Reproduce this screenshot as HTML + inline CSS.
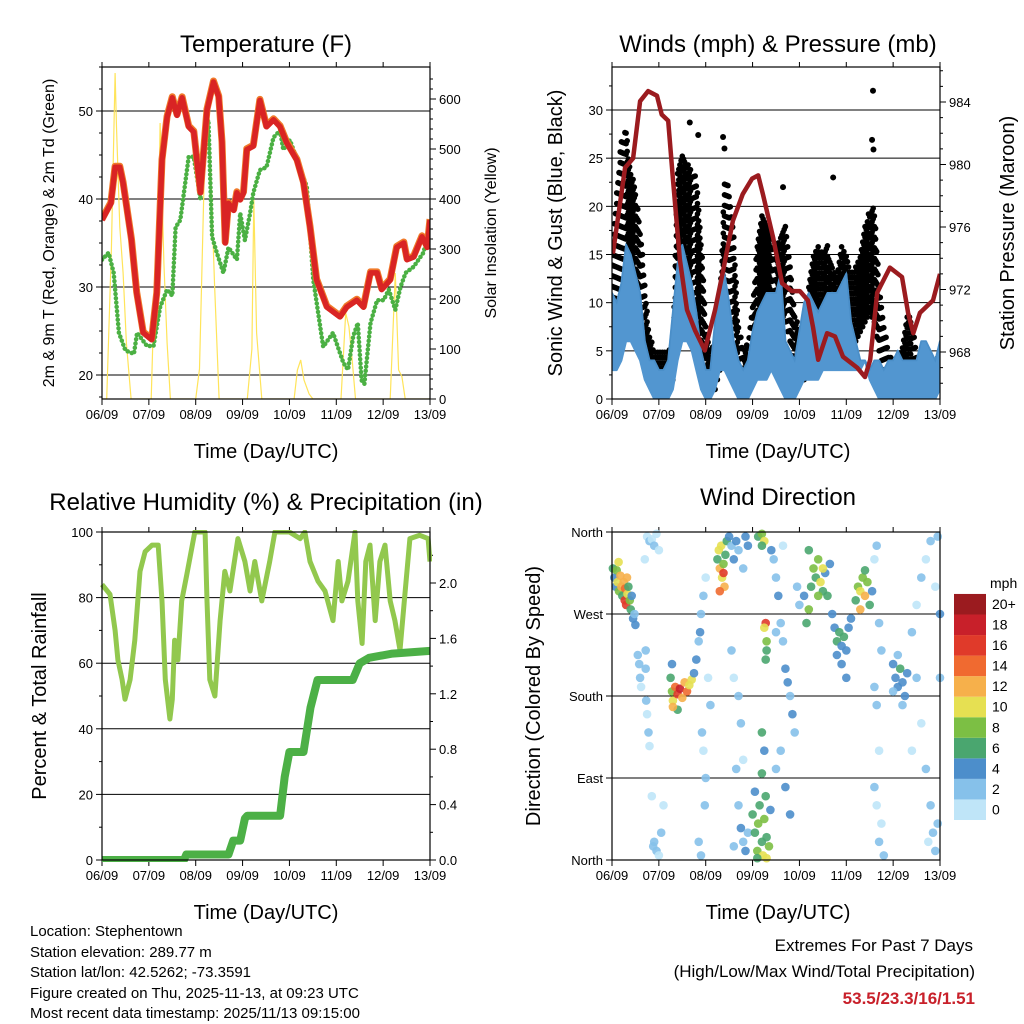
<!DOCTYPE html>
<html><head><meta charset="utf-8"><title>Station Meteogram</title>
<style>
html,body{margin:0;padding:0;background:#fff;}
svg{display:block;font-family:"Liberation Sans",Arial,sans-serif;}
</style></head>
<body>
<svg id="chart" xmlns="http://www.w3.org/2000/svg" width="1024" height="1024" viewBox="0 0 1024 1024">
<rect width="1024" height="1024" fill="#fff"/>
<text x="266" y="52" font-size="24" text-anchor="middle">Temperature (F)</text>
<text x="778" y="52" font-size="24" text-anchor="middle">Winds (mph) &amp; Pressure (mb)</text>
<text x="266" y="510" font-size="24" text-anchor="middle">Relative Humidity (%) &amp; Precipitation (in)</text>
<text x="778" y="505" font-size="24" text-anchor="middle">Wind Direction</text>
<text transform="translate(54,233) rotate(-90)" font-size="16" text-anchor="middle">2m &amp; 9m T (Red, Orange) &amp; 2m Td (Green)</text>
<text transform="translate(496,233) rotate(-90)" font-size="16" text-anchor="middle">Solar Insolation (Yellow)</text>
<text transform="translate(562,233) rotate(-90)" font-size="20" text-anchor="middle">Sonic Wind &amp; Gust (Blue, Black)</text>
<text transform="translate(1014,233) rotate(-90)" font-size="20" text-anchor="middle">Station Pressure (Maroon)</text>
<text transform="translate(46,696) rotate(-90)" font-size="20" text-anchor="middle">Percent &amp; Total Rainfall</text>
<text transform="translate(540,696) rotate(-90)" font-size="20" text-anchor="middle">Direction (Colored By Speed)</text>
<text x="266" y="458" font-size="20" text-anchor="middle">Time (Day/UTC)</text>
<text x="778" y="458" font-size="20" text-anchor="middle">Time (Day/UTC)</text>
<text x="266" y="919" font-size="20" text-anchor="middle">Time (Day/UTC)</text>
<text x="778" y="919" font-size="20" text-anchor="middle">Time (Day/UTC)</text>
<g font-size="15">
<text x="30" y="936">Location: Stephentown</text>
<text x="30" y="957">Station elevation: 289.77 m</text>
<text x="30" y="977">Station lat/lon: 42.5262; -73.3591</text>
<text x="30" y="998">Figure created on Thu, 2025-11-13, at 09:23 UTC</text>
<text x="30" y="1018">Most recent data timestamp: 2025/11/13 09:15:00</text>
</g>
<g text-anchor="end">
<text x="973" y="951" font-size="17">Extremes For Past 7 Days</text>
<text x="975" y="977" font-size="17">(High/Low/Max Wind/Total Precipitation)</text>
<text x="975" y="1004" font-size="17" font-weight="bold" fill="#c8202a">53.5/23.3/16/1.51</text>
</g>
<g id="layer"></g>
</svg>
<script>
// ---- Data ----
const dayLabels = ["06/09","07/09","08/09","09/09","10/09","11/09","12/09","13/09"];
const tempT = [0,0.19,0.28,0.38,0.45,0.63,0.74,0.88,1.06,1.17,1.28,1.39,1.5,1.6,1.71,1.85,1.96,2.1,2.24,2.38,2.49,2.56,2.63,2.7,2.81,2.88,2.95,3.02,3.09,3.23,3.37,3.51,3.66,3.8,3.94,4.16,4.3,4.44,4.58,4.8,5.08,5.22,5.44,5.58,5.73,5.87,5.97,6.15,6.29,6.44,6.51,6.65,6.83,6.94,7.0];
const tempV = [37.6,39.5,43.6,43.6,41.8,35.3,29.3,24.8,24,29.3,44.4,49.3,51.5,49.5,51.5,48.2,47.6,40.7,50.1,53.3,51.6,46.4,35,39.5,38.7,40.7,39.9,40.7,45.6,46,51.2,48.2,49,48.2,46.4,44.4,41.8,36.8,30.8,27.7,26.6,27.7,28.5,27.7,31.6,31.6,29.7,30.8,34.5,35,33.1,33.4,35.7,34.5,37.6];
const dewT = [0,0.14,0.25,0.36,0.5,0.68,0.75,0.96,1.1,1.24,1.39,1.5,1.57,1.67,1.85,1.96,2.06,2.1,2.2,2.27,2.35,2.45,2.59,2.7,2.88,2.95,3.05,3.16,3.23,3.37,3.51,3.66,3.8,3.87,4.01,4.22,4.37,4.51,4.72,4.93,5.15,5.25,5.36,5.46,5.54,5.6,5.73,5.87,6.01,6.12,6.26,6.37,6.48,6.65,6.86,7.0];
const dewV = [33.1,33.9,31.6,24.8,22.8,22.4,24.8,23.3,23.3,27.7,29.7,29,36.8,37.6,44.8,44.8,41.4,39.9,48.2,49,35.7,33.9,31.6,34.5,33.1,38.4,35.3,38.4,40.7,43.3,43.6,47,47.8,45.6,46.7,43.6,41.4,30.8,23.2,24.8,21.4,20.6,24.4,25.9,19.4,19,25.9,28.5,28.5,29.7,27.4,30,31.6,32.3,33.9,36.8];
const solarT = [0,0.1,0.2,0.28,0.31,0.38,0.45,0.52,0.62,1.05,1.12,1.19,1.24,1.32,1.39,1.46,2.0,2.08,2.19,2.26,2.33,2.4,2.5,3.1,3.2,3.24,3.3,3.41,4.1,4.17,4.24,4.31,4.42,4.5,5.1,5.2,5.27,5.34,5.41,6.15,6.26,6.33,6.4,6.47,7.0];
const solarV = [0,0,300,652,544,344,252,112,0,0,232,238,552,272,112,0,0,60,478,604,430,232,0,0,100,398,132,0,0,58,78,38,10,0,0,172,145,78,0,0,252,58,45,0,0];
const presT = [0.02,0.28,0.45,0.6,0.77,0.96,1.06,1.2,1.3,1.45,1.6,1.77,1.98,2.2,2.37,2.58,2.79,2.99,3.12,3.22,3.44,3.63,3.84,4.01,4.18,4.29,4.4,4.59,4.76,4.93,5.23,5.4,5.51,5.66,5.93,6.19,6.32,6.43,6.57,6.85,7.0];
const presV = [974.3,979.8,980.4,984.05,984.7,984.4,983.2,982.8,979.1,973.9,970.7,969.4,968.1,970.7,973.2,976.4,978.1,979.1,979.3,978.1,975.3,972.4,971.9,971.9,971.3,969.6,967.5,969.2,969,967.7,967,966.4,967.5,971.8,973.4,972.8,970.5,969.2,970.5,971.3,973];
const windLo = [3,3,4,6,6,5,4,2,1,0,0,0,0,1,4,6,6,5,3,1,0,0,1,3,3,2,1,0,0,0,1,2,2,2,3,2,1,0,0,0,1,2,2,2,2,3,3,3,3,3,3,3,3,3,4,2,1,0,0,0,0,0,0,0,0,0,0,0,0,0,1];
const windHi = [11,10,12,16,15,13,11,6,4,4,3,3,4,9,14,16,14,12,9,5,3,3,8,12,13,10,6,4,3,4,7,9,10,11,11,11,13,6,5,4,7,10,11,10,9,10,11,11,11,12,13,8,6,4,4,3,4,4,3,4,4,5,4,4,4,4,6,6,5,4,6];
const gustLo = [4,6,8,10,9,8,5,3,2,1,1,1,1,2,8,12,13,12,10,5,2,1,1,3,8,10,8,3,1,2,4,7,8,9,10,8,9,8,6,3,2,2,5,6,7,7,6,7,6,7,6,6,6,7,8,9,8,5,3,1,1,1,2,3,3,1,1,1,1,1,1];
const gustHi = [15,22,27,28,24,22,18,12,7,5,5,5,5,6,24,26,25,24,23,17,8,5,6,9,23,22,17,8,5,6,10,16,20,18,17,16,17,18,14,9,7,8,12,15,16,15,16,14,13,16,15,13,14,15,18,20,20,12,8,5,4,4,6,9,8,5,4,4,4,4,5,9];
const gustOutT = [1.66,1.84,2.37,2.4,3.65,4.72,5.57,5.55,5.58];
const gustOutV = [28.7,27.4,27.2,26,22,23,32,26.9,25.9];
const rhT = [0,0.17,0.28,0.34,0.43,0.49,0.6,0.7,0.81,0.92,1.07,1.2,1.28,1.35,1.45,1.5,1.55,1.62,1.7,1.81,1.98,2.2,2.24,2.3,2.41,2.52,2.62,2.73,2.9,3.05,3.16,3.26,3.41,3.58,3.69,4.0,4.23,4.33,4.44,4.61,4.76,4.93,5.04,5.12,5.25,5.4,5.46,5.55,5.63,5.72,5.83,5.93,6.04,6.15,6.25,6.36,6.47,6.57,6.78,6.96,7.0];
const rhV = [84,81,70,61,55,49,55,67,88,94,96,96,79,55,43,49,67,61,79,87,100,100,79,55,50,73,88,82,98,91,82,91,79,91,100,100,98,100,91,85,82,73,91,79,85,100,79,66,91,96,73,91,96,79,73,64,82,98,99,98,91];
const prT = [0,1.75,1.8,2.7,2.8,2.95,3.05,3.1,3.8,3.9,4.0,4.3,4.45,4.6,5.35,5.5,5.7,6.2,7.0];
const prV = [0,0,0.04,0.04,0.14,0.14,0.3,0.32,0.32,0.6,0.78,0.78,1.1,1.3,1.3,1.42,1.46,1.49,1.51];
const dirT = [0.02,0.05,0.08,0.1,0.12,0.15,0.18,0.2,0.22,0.25,0.27,0.28,0.3,0.32,0.33,0.35,0.38,0.4,0.42,0.45,0.48,0.5,0.14,
0.75,0.8,0.85,0.9,0.95,1.0,0.7,0.6,0.58,0.62,0.55,0.75,0.78,0.8,0.85,0.9,0.95,1.0,1.05,0.88,1.1,0.72,0.72,0.73,
1.25,1.28,1.3,1.35,1.4,1.45,1.5,1.55,1.6,1.65,1.7,1.28,1.4,1.3,1.75,1.8,
1.85,1.88,1.9,1.95,2.0,1.92,1.95,2.0,1.98,1.85,1.9,2.05,2.1,
2.25,2.28,2.3,2.33,2.35,2.38,2.4,2.42,2.45,2.3,2.38,
2.5,2.55,2.6,2.65,2.7,2.8,2.85,2.9,2.55,2.6,2.7,2.75,2.8,2.65,2.7,2.75,2.8,2.85,2.9,2.6,
3.0,3.05,3.1,3.12,3.15,3.2,3.22,3.25,3.28,3.3,3.35,3.38,3.05,3.2,3.25,3.2,3.1,3.3,
3.12,3.2,3.25,3.2,3.28,3.25,3.3,3.28,3.3,
3.45,3.5,3.55,3.6,3.65,3.7,3.75,3.8,3.85,3.9,3.6,3.5,3.7,3.8,3.4,3.5,3.95,4.0,3.65,
4.1,4.15,4.2,4.25,4.3,4.35,4.4,4.45,4.5,4.55,4.6,4.65,4.7,4.2,4.4,4.5,
4.75,4.8,4.85,4.9,4.95,5.0,5.05,5.1,4.9,5.0,4.8,
5.2,5.25,5.3,5.35,5.4,5.45,5.5,5.55,5.3,5.4,
5.6,5.65,5.7,5.75,5.6,5.65,5.7,5.6,5.65,5.7,5.8,5.75,
6.0,6.05,6.1,6.15,6.2,6.25,6.1,6.0,6.2,6.3,
6.4,6.5,6.6,6.7,6.8,6.9,7.0,6.5,6.6,6.7,6.8,6.85,6.9,6.95,6.75,7.0,6.4,6.95];
const dirDeg = [320,310,300,318,305,295,312,300,290,305,285,298,280,310,292,300,285,275,290,265,270,258,327,
355,350,352,345,358,340,330,200,215,190,225,160,140,125,70,20,10,5,30,15,60,230,210,175,
200,185,175,190,182,188,178,195,185,192,198,215,165,168,205,220,
240,250,270,290,310,140,120,90,60,20,5,200,170,
330,340,320,345,310,325,300,335,350,295,315,
355,345,330,350,340,320,355,345,230,200,180,150,110,100,60,35,20,10,30,15,
50,30,10,40,60,20,5,45,70,25,15,55,75,95,120,140,2,2,
355,358,350,345,260,255,230,220,240,
330,310,290,260,240,210,195,180,160,140,120,100,80,50,340,250,300,280,345,
290,260,275,300,320,310,330,305,295,315,290,325,270,340,290,320,
255,240,250,235,245,230,255,265,215,200,225,
285,300,295,310,290,305,280,295,275,318,
330,345,260,230,190,170,120,80,60,20,5,40,
215,200,190,210,195,180,225,185,170,205,
250,280,310,330,350,300,270,200,150,100,60,30,10,40,20,200,120,355];
const dirSpeed = [7,5,4,9,11,8,12,13,6,12,16,15,17,12,10,7,8,6,4,4,3,4,10,
1,2,1,2,1,1,1,2,2,1,3,1,2,1,1,2,2,1,2,3,1,2,2,2,
6,9,11,14,16,18,13,12,14,11,10,5,7,12,4,4,
3,4,3,2,1,2,1,3,2,2,2,1,2,
7,10,12,11,10,8,12,6,6,14,16,
4,3,4,5,3,2,4,5,2,1,2,2,1,3,3,4,3,4,3,2,
6,7,8,9,6,7,10,8,6,7,9,5,5,6,5,7,6,10,
7,9,10,7,16,10,7,6,8,
2,3,4,3,3,4,5,3,4,3,2,3,4,4,5,2,3,2,1,
5,7,8,7,9,6,8,10,7,5,6,4,5,6,9,10,
4,6,7,5,6,4,5,4,4,4,4,
6,8,11,9,12,8,6,5,12,7,
1,2,2,2,3,2,1,2,1,2,2,1,
4,5,4,6,5,4,3,3,2,4,
2,1,2,1,2,1,4,2,1,2,2,3,2,3,1,3,1,2];
const speedBins = ["0","2","4","6","8","10","12","14","16","18","20+"];
const speedColors = ["#bfe5f8","#86c1ea","#4c8ecb","#4aa66f","#7cbf44","#e6e052","#f6b04b","#f06a30","#e03a2a","#c8202a","#9b1b1f"];

// ---- helpers ----
const NS="http://www.w3.org/2000/svg";
const layer=document.getElementById('layer');
function mk(tag,attrs,parent){const e=document.createElementNS(NS,tag);for(const k in attrs)e.setAttribute(k,attrs[k]);(parent||layer).appendChild(e);return e;}
const xA=t=>102+t*46.857, xB=t=>612+t*46.857;
const yTemp=v=>375-(v-20)*8.8, ySolar=w=>399-w*0.5;
const yWind=v=>399-v*9.633, yPres=p=>352-(p-968)*15.625;
const yRH=v=>860-v*3.28, yPr=v=>860-v*138.5;
const yDir=d=>860-d*328/360;
function pathD(ts,vs,fx,fy){return ts.map((t,i)=>(i?'L':'M')+fx(t).toFixed(1)+','+fy(vs[i]).toFixed(1)).join('');}
function speedColor(s){let i=Math.floor(s/2);if(i>10)i=10;if(i<0)i=0;return speedColors[i];}

function frame(name){
  const g=mk('g',{});
  
  
  return g;
}
function gridAndAxes(g,x0,y0,x1,y1,leftTicks,fyL,leftLabels,rightTicks,fyR,rightLabels,minorL,minorR,xf){
  leftTicks.forEach(v=>{const y=fyL(v);mk('line',{x1:x0,x2:x1,y1:y,y2:y,stroke:'#000','stroke-width':1},g);});
  const gl=mk('g',{'font-size':13,'text-anchor':'end'},g);
  
  
  leftTicks.forEach((v,i)=>{const y=fyL(v);mk('line',{x1:x0-6,x2:x0,y1:y,y2:y,stroke:'#000'},g);const t=mk('text',{x:x0-9,y:y+5},gl);t.textContent=leftLabels[i];});
  minorL.forEach(v=>{const y=fyL(v);mk('line',{x1:x0-3,x2:x0,y1:y,y2:y,stroke:'#000'},g);});
  if(rightTicks){
    const gr=mk('g',{'font-size':13,'text-anchor':'start'},g);
    
    
    rightTicks.forEach((v,i)=>{const y=fyR(v);mk('line',{x1:x1,x2:x1+6,y1:y,y2:y,stroke:'#000'},g);const t=mk('text',{x:x1+9,y:y+5},gr);t.textContent=rightLabels[i];});
    minorR.forEach(v=>{const y=fyR(v);mk('line',{x1:x1,x2:x1+3,y1:y,y2:y,stroke:'#000'},g);});
  }
  const gx=mk('g',{'font-size':13,'text-anchor':'middle'},g);
  
  
  dayLabels.forEach((lab,i)=>{const x=xf(i);mk('line',{x1:x,x2:x,y1:y1,y2:y1+6,stroke:'#000'},g);mk('line',{x1:x,x2:x,y1:y0-5,y2:y0,stroke:'#000'},g);const t=mk('text',{x:x,y:y1+20},gx);t.textContent=lab;});
}
function border(x0,y0,x1,y1){const r=mk('rect',{x:x0,y:y0,width:x1-x0,height:y1-y0,fill:'none',stroke:'#000','stroke-width':1.2});}
function range(a,b,s){const r=[];for(let v=a;v<=b+1e-9;v+=s)r.push(+v.toFixed(3));return r;}
function clip(id,x,y,w,h){const c=mk('clipPath',{id:id});mk('rect',{x:x,y:y,width:w,height:h},c);}

// ---- Panel 1: Temperature ----
const g1=frame('temperature-panel');
clip('c1',102,67,328,332);
gridAndAxes(g1,102,67,430,399,[20,30,40,50],yTemp,["20","30","40","50"],range(0,600,100),ySolar,["0","100","200","300","400","500","600"],range(17.5,55,2.5).filter(v=>v%10),range(0,650,20).filter(v=>v%100),xA);
const gp1=mk('g',{'clip-path':'url(#c1)'},g1);
let e;
e=mk('path',{d:pathD(solarT,solarV,xA,ySolar),fill:'none',stroke:'#ffe45a','stroke-width':1.2},gp1);

e=mk('path',{d:pathD(dewT,dewV,xA,yTemp),fill:'none',stroke:'#4bb043','stroke-width':4.5,'stroke-dasharray':'0.1 4.2','stroke-linecap':'round'},gp1);

e=mk('path',{d:pathD(tempT,tempV,xA,yTemp),fill:'none',stroke:'#f07a2a','stroke-width':7,'stroke-linejoin':'round',transform:'translate(0,-1)'},gp1);

e=mk('path',{d:pathD(tempT,tempV,xA,yTemp),fill:'none',stroke:'#d92424','stroke-width':5.5,'stroke-linejoin':'round'},gp1);

border(102,67,430,399);

// ---- Panel 2: Winds ----
const g2=frame('winds-panel');
clip('c2',612,67,328,332);
gridAndAxes(g2,612,67,940,399,range(0,30,5),yWind,["0","5","10","15","20","25","30"],[968,972,976,980,984],yPres,["968","972","976","980","984"],range(2.5,32.5,5),range(966,986,1).filter(v=>v%4),xB);
const gp2=mk('g',{'clip-path':'url(#c2)'},g2);
const gg=mk('g',{fill:'#000'},gp2);

for(let i=0;i<gustLo.length-1;i++){
  for(let k=0;k<4;k++){
    const t=i*0.1+k*0.025;
    const lo=gustLo[i]+(gustLo[i+1]-gustLo[i])*k/4, hi=gustHi[i]+(gustHi[i+1]-gustHi[i])*k/4;
    const off=(k%2)*0.55;
    for(let v=lo+off;v<=hi;v+=1.1){
      mk('circle',{cx:xB(t).toFixed(1),cy:yWind(v).toFixed(1),r:2.8},gg);
    }
  }
}
gustOutT.forEach((t,i)=>{mk('circle',{cx:xB(t),cy:yWind(gustOutV[i]),r:3},gg);});
const tw=windLo.map((_,i)=>i*0.1);
const bandD=pathD(tw,windHi,xB,yWind)+tw.slice().reverse().map(t=>'L'+xB(t).toFixed(1)+','+yWind(windLo[Math.round(t*10)]).toFixed(1)).join('')+'Z';
e=mk('path',{d:bandD,fill:'#5296d0',stroke:'#5296d0','stroke-width':2,'stroke-linejoin':'round'},gp2);

e=mk('path',{d:pathD(tw,windHi,xB,yWind),fill:'none',stroke:'#4a8ec8','stroke-width':1.5},gp2);

e=mk('path',{d:pathD(presT,presV,xB,yPres),fill:'none',stroke:'#9b1b1f','stroke-width':4.5,'stroke-linejoin':'round'},gp2);

border(612,67,940,399);

// ---- Panel 3: RH & Precip ----
const g3=frame('humidity-panel');
clip('c3',100,530,332,332);
gridAndAxes(g3,102,532,430,860,range(0,100,20),yRH,["0","20","40","60","80","100"],range(0,2,0.4),yPr,["0.0","0.4","0.8","1.2","1.6","2.0"],range(10,90,20),range(0.2,2.2,0.4),xA);
const gp3=mk('g',{'clip-path':'url(#c3)'},g3);
e=mk('path',{d:pathD(rhT,rhV,xA,yRH),fill:'none',stroke:'#92c84e','stroke-width':5,'stroke-linejoin':'round'},gp3);

e=mk('path',{d:pathD(prT,prV,xA,yPr),fill:'none',stroke:'#4cb046','stroke-width':8,'stroke-linejoin':'round'},gp3);

border(102,532,430,860);

// ---- Panel 4: Wind direction ----
const g4=frame('wind-direction-panel');
gridAndAxes(g4,612,532,940,860,[0,90,180,270,360],yDir,["North","East","South","West","North"],null,null,null,[],[],xB);
const gd=mk('g',{},g4);

dirT.forEach((t,i)=>{mk('circle',{cx:xB(t).toFixed(1),cy:yDir(dirDeg[i]).toFixed(1),r:4.3,fill:speedColor(dirSpeed[i]),'fill-opacity':0.9},gd);});
border(612,532,940,860);

// ---- Colorbar ----
const cb=mk('g',{});

const cbt=mk('text',{x:990,y:588,'font-size':14},cb);cbt.textContent='mph';
speedBins.forEach((lab,i)=>{
  const y=820-(i+1)*20.55;
  mk('rect',{x:954,y:y,width:32,height:20.55,fill:speedColors[i]},cb);
  const t=mk('text',{x:992,y:y+15,'font-size':14},cb);t.textContent=lab;
});
</script>
</body></html>
